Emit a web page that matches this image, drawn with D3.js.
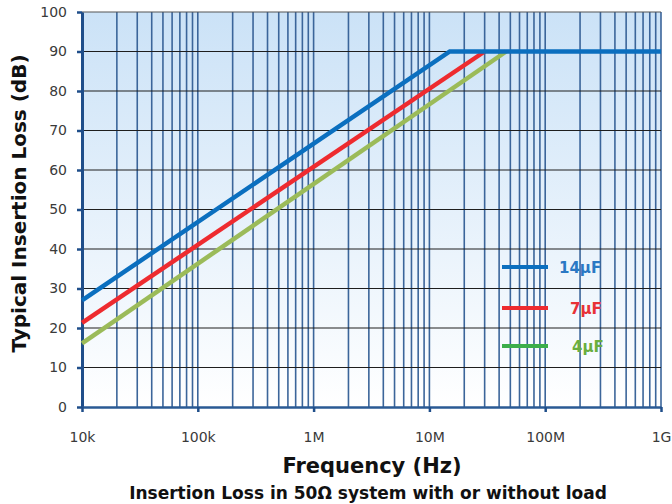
<!DOCTYPE html>
<html>
<head>
<meta charset="utf-8">
<script src="https://cdn.jsdelivr.net/npm/d3@7"></script>
<style>
  body { margin: 0; background: #fff; }
  svg text { font-family: "DejaVu Sans", "Open Sans", sans-serif; }
</style>
</head>
<body>
<div id="chart"></div>
<script>
// values
var xTickValues = [1e4, 1e5, 1e6, 1e7, 1e8, 1e9],
    xTickLabels = ["10k", "100k", "1M", "10M", "100M", "1G"],
    yTickValues = [0, 10, 20, 30, 40, 50, 60, 70, 80, 90, 100];

var cap14 = [[1e4, 27.0], [1.5e7, 90], [1e9, 90]],
    cap7  = [[1e4, 21.3], [3.0e7, 90]],
    cap4  = [[1e4, 16.1], [4.6e7, 90]];

var seriesNames = ["14\u00b5F", "7\u00b5F", "4\u00b5F"],
    lineColors = ["#0b6fbf", "#ee2b2f", "#9bbb59"],
    legendColors = ["#0b6fbf", "#ee2b2f", "#3cae4a"],
    textColors = ["#2a78c4", "#e83236", "#6aae3e"];

var width = 672, height = 504,
    margin = {top: 12, right: 11, bottom: 97, left: 82},
    innerW = width - margin.left - margin.right,
    innerH = height - margin.top - margin.bottom;

var x = d3.scaleLog().domain([1e4, 1e9]).range([0, innerW]),
    y = d3.scaleLinear().domain([0, 100]).range([innerH, 0]);

var svg = d3.select("#chart").append("svg")
    .attr("width", width)
    .attr("height", height);

var defs = svg.append("defs");
var grad = defs.append("linearGradient")
    .attr("id", "bg").attr("x1", 0).attr("y1", 0).attr("x2", 0).attr("y2", 1);
grad.append("stop").attr("offset", "0%").attr("stop-color", "#cbe2f7");
grad.append("stop").attr("offset", "100%").attr("stop-color", "#ffffff");

var g = svg.append("g")
    .attr("transform", "translate(" + margin.left + "," + margin.top + ")");

g.append("rect")
    .attr("width", innerW).attr("height", innerH)
    .attr("fill", "url(#bg)");

// minor + major vertical grid (log)
var vgrid = [];
for (var e = 4; e < 9; e++) {
    for (var m = 1; m < 10; m++) vgrid.push(m * Math.pow(10, e));
}
vgrid.push(1e9);

g.append("g").selectAll("line")
    .data(vgrid)
    .enter().append("line")
    .attr("x1", function(d) { return x(d); })
    .attr("x2", function(d) { return x(d); })
    .attr("y1", 0).attr("y2", innerH)
    .attr("stroke", "#3b659a")
    .attr("stroke-width", 1.6);

// horizontal grid
g.append("g").selectAll("line")
    .data(yTickValues.filter(function(d) { return d > 0; }))
    .enter().append("line")
    .attr("x1", 0).attr("x2", innerW)
    .attr("y1", function(d) { return y(d); })
    .attr("y2", function(d) { return y(d); })
    .attr("stroke", function(d) { return d == 100 ? "#555" : "#1e1e1e"; })
    .attr("stroke-width", 1.2);

// axes
var yAxis = d3.axisLeft(y).tickValues(yTickValues).tickSizeInner(5).tickSizeOuter(0).tickPadding(10);
var xAxis = d3.axisBottom(x).tickValues(xTickValues)
    .tickFormat(function(d, i) { return xTickLabels[i]; })
    .tickSizeInner(5).tickSizeOuter(0).tickPadding(20);

var ya = g.append("g").call(yAxis);
ya.select(".domain").attr("stroke", "#1f4e8a").attr("stroke-width", 3);
ya.selectAll(".tick line").attr("stroke", "#1f4e8a").attr("stroke-width", 2.5);
ya.selectAll("text").attr("font-size", 14).attr("fill", "#3a3a3a");

var xa = g.append("g").attr("transform", "translate(0," + innerH + ")").call(xAxis);
xa.select(".domain").attr("stroke", "#2a5a94").attr("stroke-width", 2.5);
xa.selectAll(".tick line").attr("stroke", "#1f4e8a").attr("stroke-width", 2.5);
xa.selectAll("text").attr("font-size", 14).attr("fill", "#3a3a3a");

// series lines
var line = d3.line()
    .x(function(d) { return x(d[0]); })
    .y(function(d) { return y(d[1]); });

[cap4, cap7, cap14].forEach(function(s, i) {
    g.append("path")
        .datum(s)
        .attr("d", line)
        .attr("fill", "none")
        .attr("stroke", lineColors[2 - i])
        .attr("stroke-width", 4.5);
});

// legend
var legend = g.append("g");
seriesNames.forEach(function(name, i) {
    var ly = [255, 296, 334][i];
    legend.append("line")
        .attr("x1", 420).attr("x2", 466)
        .attr("y1", ly).attr("y2", ly)
        .attr("stroke", legendColors[i])
        .attr("stroke-width", 4);
    legend.append("text")
        .attr("x", [477, 488, 490][i])
        .attr("y", ly + 6)
        .attr("font-size", 15)
        .attr("font-weight", "bold")
        .attr("fill", textColors[i])
        .text(name);
});

// titles
svg.append("text")
    .attr("transform", "translate(26," + (margin.top + innerH / 2 - 6) + ") rotate(-90)")
    .attr("text-anchor", "middle")
    .attr("font-size", 20)
    .attr("font-weight", "bold")
    .attr("fill", "#111")
    .text("Typical Insertion Loss (dB)");

svg.append("text")
    .attr("x", 372).attr("y", 473)
    .attr("text-anchor", "middle")
    .attr("font-size", 21)
    .attr("font-weight", "bold")
    .attr("fill", "#111")
    .text("Frequency (Hz)");

svg.append("text")
    .attr("x", 368).attr("y", 499)
    .attr("text-anchor", "middle")
    .attr("font-size", 17)
    .attr("font-weight", "bold")
    .attr("fill", "#111")
    .text("Insertion Loss in 50\u03a9 system  with or without load");
</script>
</body>
</html>
